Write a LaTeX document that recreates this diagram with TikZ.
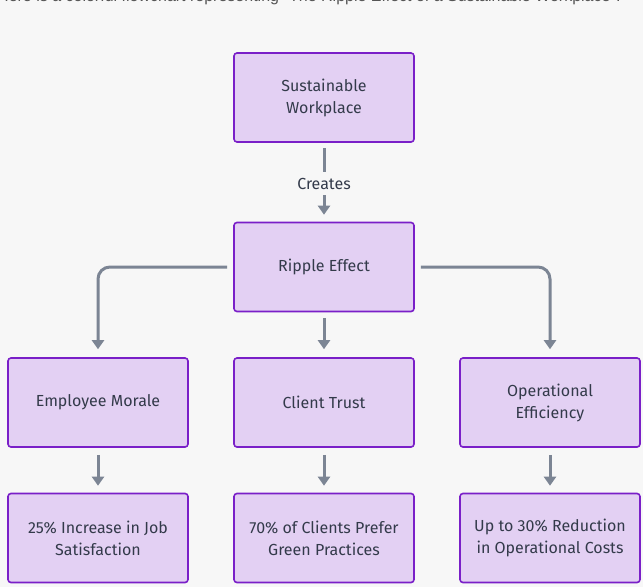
\documentclass[tikz,border=0pt]{standalone}
\usepackage{fontspec}
\setmainfont{Fira Sans}
\newfontfamily\capfont{Liberation Sans}
\usetikzlibrary{arrows.meta}
\definecolor{bg}{HTML}{F7F7F7}
\definecolor{boxfill}{HTML}{E3D0F3}
\definecolor{boxline}{HTML}{7A1FC8}
\definecolor{arrowc}{HTML}{7C8594}
\definecolor{txt}{HTML}{333A4A}
\definecolor{captxt}{HTML}{555555}
\tikzset{
  stepbox/.style={draw=boxline, fill=boxfill, line width=1.6pt, rounded corners=3pt,
    minimum width=180pt, minimum height=89pt, inner sep=0pt, align=center,
    text=txt, font=\fontsize{16}{22}\selectfont},
  conn/.style={draw=arrowc, line width=3pt},
  arr/.style={conn, -{Triangle[width=12pt,length=9pt]}},
  lbl/.style={text=txt, font=\fontsize{16}{17}\selectfont, inner sep=0pt, minimum height=24pt}
}
\begin{document}
\begin{tikzpicture}[x=1pt,y=-1pt]
\useasboundingbox[fill=bg] (0,0) rectangle (643,587);
\node[anchor=base west, inner sep=0pt, text=captxt, font=\capfont\fontsize{16}{18}\selectfont] (cap) at (-3,1.5) {Here is a colorful flowchart representing "The Ripple Effect of a Sustainable Workplace":};
\node[stepbox] (sw) at (324,97.5) {Sustainable\\Workplace};
\node[stepbox] (rip) at (324,267) {Ripple Effect};
\node[stepbox] (emp) at (98,402.5) {Employee Morale};
\node[stepbox] (cli) at (324,402.5) {Client Trust};
\node[stepbox] (ope) at (550,402.5) {Operational\\Efficiency};
\node[stepbox] (job) at (98,538) {25\% Increase in Job\\Satisfaction};
\node[stepbox] (gre) at (324,538) {70\% of Clients Prefer\\Green Practices};
\node[stepbox] (red) at (550,538) {Up to 30\% Reduction\\in Operational Costs};
\node[lbl] (cr) at (324,184) {Creates};
\draw[conn] (324,148) -- (cr.north);
\draw[arr] ([yshift=1pt]cr.south) -- ([yshift=7pt]rip.north);
\draw[arr, rounded corners=12pt] ([xshift=-6pt]rip.west) -| ([yshift=8pt]emp.north);
\draw[arr, rounded corners=12pt] ([xshift=6pt]rip.east) -| ([yshift=8pt]ope.north);
\draw[arr] ([yshift=-6pt]rip.south) -- ([yshift=8pt]cli.north);
\draw[arr] ([yshift=-7pt]emp.south) -- ([yshift=7pt]job.north);
\draw[arr] ([yshift=-7pt]cli.south) -- ([yshift=7pt]gre.north);
\draw[arr] ([yshift=-7pt]ope.south) -- ([yshift=7pt]red.north);
\end{tikzpicture}
\end{document}
